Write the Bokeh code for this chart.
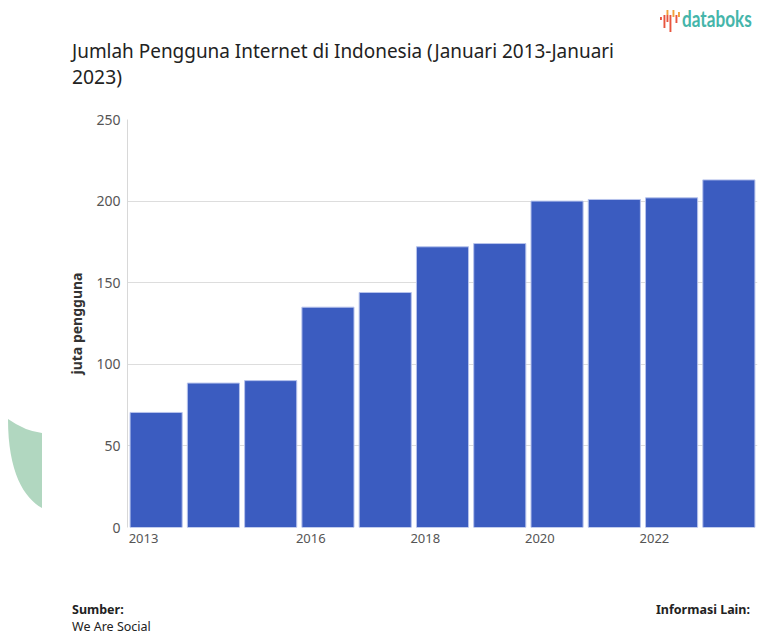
from bokeh.plotting import figure
from bokeh.models import FixedTicker, ColumnDataSource, Range1d, Div
from bokeh.layouts import column, row
from bokeh.embed import file_html
from bokeh.resources import INLINE

# ---- data ----
years = [2013, 2014, 2015, 2016, 2017, 2018, 2019, 2020, 2021, 2022, 2023]
users = [70.5, 88.5, 90.0, 135.0, 144.0, 172.0, 174.0, 200.0, 201.0, 202.0, 213.0]
tick_years = [2013, 2016, 2018, 2020, 2022]
y_ticks = [0, 50, 100, 150, 200, 250]

title_line1 = "Jumlah Pengguna Internet di Indonesia (Januari 2013-Januari"
title_line2 = "2023)"
y_label = "juta pengguna"
source_label = "Sumber:"
source_text = "We Are Social"
info_label = "Informasi Lain:"

FONT = "Noto Sans"
TOTAL_W = 763
HEADER_H = 100
FIG_H = 460
FOOTER_H = 77
DECO_W = 45

def fstyle(family, size, weight="normal"):
    return f"font-family:'{family}';font-size:{size}px;font-weight:{weight}"

# ---- header (title + logo) ----
icon_bars = [(660, 17, 20, "#e8553e"), (663.5, 15, 28, "#e8553e"),
             (666.5, 10, 15, "#f3a03a"), (666.5, 15, 22, "#e8553e"),
             (669.5, 15, 32, "#e8553e"), (672.5, 10, 17, "#f3a03a"),
             (675.5, 15, 23, "#e8553e"), (678, 12, 17, "#f3a03a")]
icon_svg = "".join(
    f'<rect x="{bx}" y="{t}" width="1.9" height="{b - t}" fill="{c}"/>'
    for bx, t, b, c in icon_bars)
header_svg = f'''
<svg width="{TOTAL_W}" height="{HEADER_H}" xmlns="http://www.w3.org/2000/svg" style="display:block">
  {icon_svg}
  <g transform="translate(682,27) scale(0.78,1)">
    <text x="0" y="0" style="{fstyle('Lato', 22, 'bold')}" fill="#45b5aa">databoks</text>
  </g>
  <text x="72" y="58" style="{fstyle(FONT, 19.5)}" fill="#222222"
        textLength="542" lengthAdjust="spacingAndGlyphs">{title_line1}</text>
  <text x="72" y="84" style="{fstyle(FONT, 19.5)}" fill="#222222"
        textLength="50" lengthAdjust="spacingAndGlyphs">{title_line2}</text>
</svg>'''
header = Div(text=header_svg, width=TOTAL_W, height=HEADER_H,
             styles={"margin": "0", "padding": "0"})

# ---- decoration at left ----
deco_svg = f'''
<svg width="{DECO_W}" height="{FIG_H}" xmlns="http://www.w3.org/2000/svg" style="display:block">
  <path d="M8,319 Q25,331 42,333 L42,408 C24,398 8,372 8,319 Z" fill="#b1d7c0"/>
</svg>'''
deco = Div(text=deco_svg, width=DECO_W, height=FIG_H,
           styles={"margin": "0", "padding": "0"})

# ---- chart ----
p = figure(width=TOTAL_W - DECO_W, height=FIG_H, output_backend="svg",
           toolbar_location=None,
           x_range=Range1d(2013, 2024), y_range=Range1d(0, 250),
           min_border_left=127 - DECO_W, min_border_right=6, min_border_top=19,
           min_border_bottom=33)
p.outline_line_color = None
p.background_fill_color = "white"
p.border_fill_color = "white"

src = ColumnDataSource(dict(x=[y + 0.5 for y in years], top=users))
p.vbar(x="x", top="top", width=0.91, source=src, fill_color="#3b5cc0",
       line_color="#b7c3ec", line_width=1)

p.xgrid.grid_line_color = None
p.ygrid.grid_line_color = "#dddddd"
p.ygrid.grid_line_width = 1

p.yaxis.ticker = FixedTicker(ticks=y_ticks)
p.yaxis.axis_line_color = "#d8d8d8"
p.yaxis.major_tick_line_color = None
p.yaxis.minor_tick_line_color = None
p.yaxis.major_tick_out = 0
p.yaxis.major_tick_in = 0
p.yaxis.major_label_text_font = FONT
p.yaxis.major_label_text_font_size = "14px"
p.yaxis.major_label_text_color = "#555555"
p.yaxis.major_label_standoff = 7
p.yaxis.axis_label = y_label
p.yaxis.axis_label_text_font = FONT
p.yaxis.axis_label_text_font_size = "14px"
p.yaxis.axis_label_text_font_style = "bold"
p.yaxis.axis_label_text_color = "#333333"
p.yaxis.axis_label_standoff = 7

# label positions: first label nudged right (kept inside the plot edge)
tick_offsets = [0.28, 0.2, 0.2, 0.2, 0.2]
tick_pos = [y + o for y, o in zip(tick_years, tick_offsets)]
p.xaxis.ticker = FixedTicker(ticks=tick_pos)
p.xaxis.major_label_overrides = {t: str(y) for t, y in zip(tick_pos, tick_years)}
p.xaxis.axis_line_color = None
p.xaxis.major_tick_line_color = None
p.xaxis.minor_tick_line_color = None
p.xaxis.major_tick_out = 0
p.xaxis.major_tick_in = 0
p.xaxis.major_label_text_font = FONT
p.xaxis.major_label_text_font_size = "13px"
p.xaxis.major_label_text_color = "#555555"
p.xaxis.major_label_standoff = 6

# ---- footer ----
footer_svg = f'''
<svg width="{TOTAL_W}" height="{FOOTER_H}" xmlns="http://www.w3.org/2000/svg" style="display:block">
  <text x="72" y="54" style="{fstyle(FONT, 12.5, 'bold')}" fill="#222222">{source_label}</text>
  <text x="72" y="71" style="{fstyle(FONT, 12.5)}" fill="#222222">{source_text}</text>
  <text x="750" y="54" text-anchor="end" style="{fstyle(FONT, 12.5, 'bold')}" fill="#222222">{info_label}</text>
</svg>'''
footer = Div(text=footer_svg, width=TOTAL_W, height=FOOTER_H,
             styles={"margin": "0", "padding": "0"})

layout = column(header, row(deco, p, spacing=0), footer, spacing=0)
open("out.html", "w").write(file_html(layout, INLINE))
